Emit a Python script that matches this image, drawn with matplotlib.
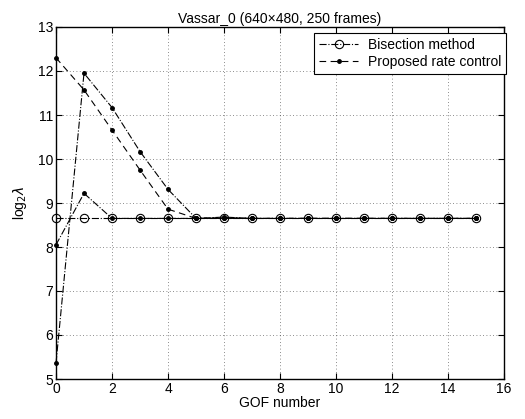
import matplotlib
matplotlib.use("Agg")
import matplotlib.pyplot as plt
import numpy as np

plt.rcParams['font.family'] = ['Liberation Sans', 'DejaVu Sans']

gof = list(range(16))
bisection = [8.65] * 16
proposed_a = [12.3, 11.57, 10.66, 9.75, 8.86, 8.65, 8.67, 8.65, 8.65, 8.65, 8.65, 8.65, 8.65, 8.65, 8.65, 8.65]
proposed_b = [5.36, 11.95, 11.17, 10.17, 9.31, 8.65, 8.68, 8.65, 8.65, 8.65, 8.65, 8.65, 8.65, 8.65, 8.65, 8.65]
proposed_c = [8.05, 9.22, 8.65, 8.65, 8.65, 8.65, 8.65, 8.65, 8.65, 8.65, 8.65, 8.65, 8.65, 8.65, 8.65, 8.65]

xticks = [0, 2, 4, 6, 8, 10, 12, 14, 16]
yticks = [5, 6, 7, 8, 9, 10, 11, 12, 13]

fs = 10

fig = plt.figure(figsize=(5.25, 4.19), dpi=100)
ax = fig.add_axes([56/525, 1 - 379/419, (504-56)/525, (379-27)/419])

lw = 0.8
ax.plot(gof, bisection, linestyle='-.', color='black', lw=lw, marker='o',
        markersize=6, markerfacecolor='none', markeredgewidth=0.8,
        label='Bisection method', clip_on=False, zorder=3)
ax.plot(gof, proposed_a, linestyle='--', dashes=(6, 4), color='black', lw=lw, marker='o',
        markersize=2.5, label='Proposed rate control', clip_on=False, zorder=4)
ax.plot(gof, proposed_b, linestyle='-.', color='black', lw=lw, marker='o',
        markersize=2.5, clip_on=False, zorder=4)
ax.plot(gof, proposed_c, linestyle='-.', color='black', lw=lw, marker='o',
        markersize=2.5, clip_on=False, zorder=4)

ax.set_xlim(0, 16)
ax.set_ylim(5, 13)
ax.set_xticks(xticks)
ax.set_yticks(yticks)
ax.tick_params(direction='in', top=True, right=True, labelsize=fs, length=4, width=0.8, pad=2)
ax.grid(True, linestyle=(0, (1, 3)), color='black', lw=0.6, alpha=0.6)
for s in ax.spines.values():
    s.set_linewidth(1.0)

ax.set_title('Vassar_0 (640\u00d7480, 250 frames)', fontsize=fs, pad=3)
ax.set_xlabel('GOF number', fontsize=fs, labelpad=0)
ax.set_ylabel(r'log$_2\lambda$', fontsize=fs, labelpad=6)

leg = ax.legend(loc='upper right', bbox_to_anchor=(506/525, 1 - 32.7/419),
                bbox_transform=fig.transFigure, fontsize=fs, frameon=True,
                fancybox=False, edgecolor='black', framealpha=1, borderaxespad=0,
                handlelength=2.8, borderpad=0.35, labelspacing=0.25, handletextpad=0.7)
leg.get_frame().set_linewidth(0.8)

fig.savefig('out.png', dpi=100)
